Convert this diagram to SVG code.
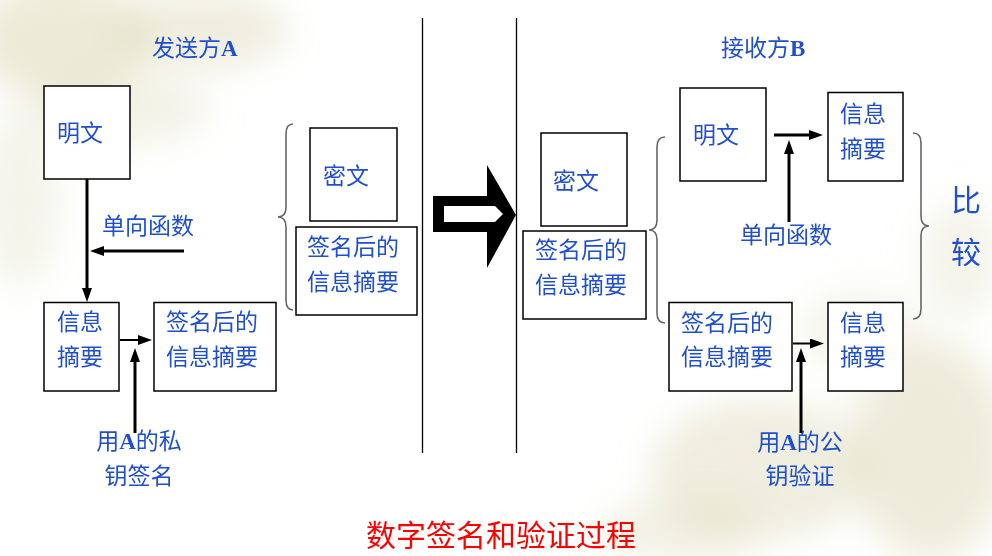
<svg xmlns="http://www.w3.org/2000/svg" width="992" height="556" viewBox="0 0 992 556">
<style>
.bx{fill:#fff;stroke:#000;stroke-width:1.5}
.t{font-family:'Noto Sans CJK SC','Noto Sans',sans-serif;font-size:23px;fill:#1f4fd0}
.a{font-family:'Liberation Serif',serif;font-weight:bold}
.ln{stroke:#000;stroke-width:3;fill:none}
.ln2{stroke:#000;stroke-width:2;fill:none}
.br{stroke:#666;stroke-width:1.6;fill:none}
.sep{stroke:#000;stroke-width:1.3}
</style>
<defs>
<marker id="ah" viewBox="0 0 14 10" refX="4" refY="5" markerWidth="14" markerHeight="10" markerUnits="userSpaceOnUse" orient="auto">
<path d="M0,0 L14,5 L0,10 Z" fill="#000"/>
</marker>
<filter id="blur" x="-50%" y="-50%" width="200%" height="200%"><feGaussianBlur stdDeviation="18"/></filter>
</defs>
<rect width="992" height="556" fill="#fff"/>
<g id="background" filter="url(#blur)" fill="#dcdab8">
<ellipse cx="60" cy="40" rx="90" ry="60" opacity="0.55"/>
<ellipse cx="200" cy="30" rx="90" ry="40" opacity="0.45"/>
<ellipse cx="120" cy="110" rx="90" ry="35" opacity="0.35"/>
<ellipse cx="20" cy="200" rx="40" ry="90" opacity="0.3"/>
<ellipse cx="760" cy="470" rx="110" ry="70" opacity="0.45"/>
<ellipse cx="930" cy="450" rx="80" ry="110" opacity="0.5"/>
<ellipse cx="680" cy="530" rx="80" ry="30" opacity="0.4"/>
<ellipse cx="960" cy="260" rx="40" ry="60" opacity="0.3"/>
<ellipse cx="860" cy="330" rx="60" ry="40" opacity="0.3"/>
</g>
<g id="separators">
<line class="sep" x1="422.5" y1="18" x2="422.5" y2="453"/>
<line class="sep" x1="516.5" y1="18" x2="516.5" y2="453"/>
</g>
<g id="sender-title"><text class="t" x="152" y="56">发送方<tspan class="a">A</tspan></text></g>
<g id="receiver-title"><text class="t" x="721" y="56">接收方<tspan class="a">B</tspan></text></g>
<g id="a-plain"><rect class="bx" x="44" y="86" width="86" height="93"/><text class="t" x="57" y="141">明文</text></g>
<g id="a-digest"><rect class="bx" x="44" y="302.5" width="75" height="88.5"/><text class="t" x="57" y="330">信息</text><text class="t" x="57" y="365">摘要</text></g>
<g id="a-signed"><rect class="bx" x="154" y="302.5" width="122" height="88.5"/><text class="t" x="166" y="330">签名后的</text><text class="t" x="166" y="365">信息摘要</text></g>
<g id="a-cipher"><rect class="bx" x="310" y="128" width="87" height="93"/><text class="t" x="323" y="184">密文</text></g>
<g id="a-sent-signed"><rect class="bx" x="296" y="227" width="121" height="88"/><text class="t" x="307" y="255">签名后的</text><text class="t" x="307" y="290">信息摘要</text></g>
<g id="b-cipher"><rect class="bx" x="541" y="133" width="86" height="93"/><text class="t" x="553" y="189">密文</text></g>
<g id="b-recv-signed"><rect class="bx" x="523" y="231" width="123" height="88"/><text class="t" x="535" y="258">签名后的</text><text class="t" x="535" y="293">信息摘要</text></g>
<g id="b-plain"><rect class="bx" x="680" y="88" width="86" height="93"/><text class="t" x="693" y="143">明文</text></g>
<g id="b-digest1"><rect class="bx" x="828" y="92.5" width="75" height="88.5"/><text class="t" x="840" y="122">信息</text><text class="t" x="840" y="157">摘要</text></g>
<g id="b-signed"><rect class="bx" x="669" y="302.5" width="123" height="88.5"/><text class="t" x="681" y="331">签名后的</text><text class="t" x="681" y="365">信息摘要</text></g>
<g id="b-digest2"><rect class="bx" x="828" y="302.5" width="75" height="88.5"/><text class="t" x="840" y="331">信息</text><text class="t" x="840" y="365">摘要</text></g>
<g id="labels">
<text class="t" x="102" y="234">单向函数</text>
<text class="t" x="139" y="449" text-anchor="middle">用<tspan class="a">A</tspan>的私</text>
<text class="t" x="139" y="484" text-anchor="middle">钥签名</text>
<text class="t" x="740" y="243">单向函数</text>
<text class="t" x="800" y="450" text-anchor="middle">用<tspan class="a">A</tspan>的公</text>
<text class="t" x="800" y="484" text-anchor="middle">钥验证</text>
<text class="t" x="951" y="211" style="font-size:30px">比</text>
<text class="t" x="951" y="263" style="font-size:30px">较</text>
</g>
<g id="connectors">
<path class="ln" d="M87,179 L87,292" marker-end="url(#ah)"/>
<path class="ln" d="M184,251 L100,251" marker-end="url(#ah)"/>
<path class="ln2" d="M120,340 L142,340" marker-end="url(#ah)"/>
<path class="ln" d="M135,433 L135,358" marker-end="url(#ah)"/>
<path class="ln" d="M774,135 L813,135" marker-end="url(#ah)"/>
<path class="ln" d="M789,222 L789,150" marker-end="url(#ah)"/>
<path class="ln2" d="M793,343.5 L814,343.5" marker-end="url(#ah)"/>
<path class="ln" d="M801,433 L801,358" marker-end="url(#ah)"/>
</g>
<g id="braces">
<path class="br" d="M293,124 Q286,124 286,134 L286,207 Q286,217 278,217 Q286,217 286,227 L286,300 Q286,310 293,310"/>
<path class="br" d="M665,137 Q657,137 657,147 L657,220 Q657,230 649,230 Q657,230 657,240 L657,313 Q657,323 665,323"/>
<path class="br" d="M913,133 Q921,133 921,143 L921,216 Q921,226 929,226 Q921,226 921,236 L921,309 Q921,319 913,319"/>
</g>
<g id="big-arrow">
<path d="M433,196 L487,196 L487,165 L516,215 L487,268 L487,232 L433,232 Z" fill="#000"/>
<path d="M444,206 L495,206 L503,214 L495,222 L444,222 Z" fill="#fff"/>
</g>
<g id="title"><text x="366" y="546" font-family="'Noto Sans CJK SC',sans-serif" font-size="30" fill="#ff0000">数字签名和验证过程</text></g>
</svg>
